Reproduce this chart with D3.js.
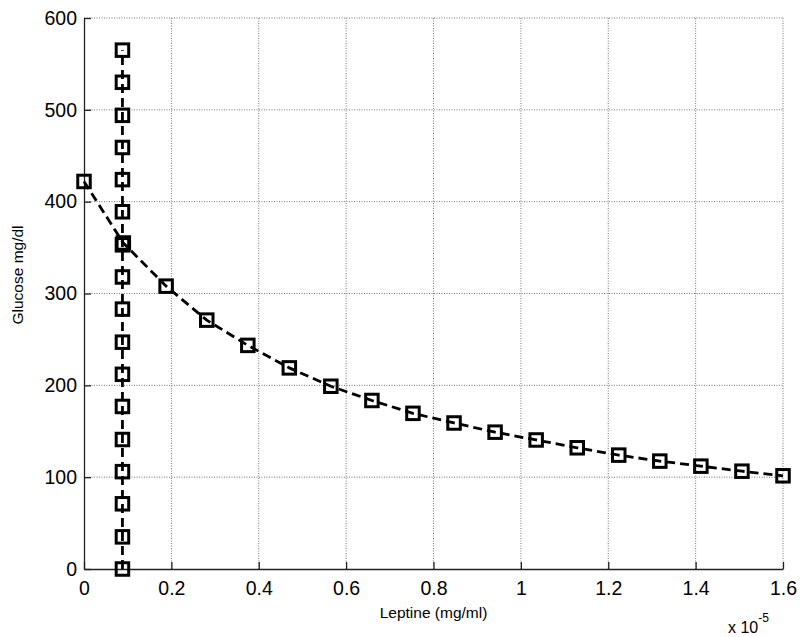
<!DOCTYPE html>
<html>
<head>
<meta charset="utf-8">
<script src="https://cdn.jsdelivr.net/npm/d3@7"></script>
<style>
  html, body { margin: 0; padding: 0; background: #fff; }
  svg { display: block; }
  text { font-family: "Liberation Sans", Arial, sans-serif; fill: #000; }
</style>
</head>
<body>
<svg id="chart" width="800" height="637"></svg>
<script>
// ---- data ----
const xTicks = [0, 0.2, 0.4, 0.6, 0.8, 1, 1.2, 1.4, 1.6];
const xTickLabels = ["0", "0.2", "0.4", "0.6", "0.8", "1", "1.2", "1.4", "1.6"];
const yTicks = [0, 100, 200, 300, 400, 500, 600];
const yTickLabels = ["0", "100", "200", "300", "400", "500", "600"];

// curve series (Leptine x1e-5, Glucose)
const curveX = [0, 0.09, 0.188, 0.281, 0.375, 0.47, 0.565, 0.659, 0.753, 0.847, 0.941, 1.035, 1.129, 1.224, 1.318, 1.412, 1.506, 1.6];
const curveY = [422, 355, 308, 271, 243.5, 219, 199, 183.5, 169.5, 159, 149, 140.5, 132, 124, 117.5, 112, 106.5, 101.5];

// vertical series
const vertX = [0.088, 0.088, 0.088, 0.088, 0.088, 0.088, 0.088, 0.088, 0.088, 0.088, 0.088, 0.088, 0.088, 0.088, 0.088, 0.088, 0.088];
const vertY = [0, 35, 71, 106, 141, 177, 212, 247, 283, 318, 353, 389, 424, 459, 494, 530, 565];

const xLabel = "Leptine (mg/ml)";
const yLabel = "Glucose mg/dl";

// ---- layout ----
const svg = d3.select("#chart");
const pL = 84, pR = 783, pT = 18, pB = 569;
const x = d3.scaleLinear().domain([0, 1.6]).range([pL, pR]);
const y = d3.scaleLinear().domain([0, 600]).range([pB, pT]);

// grid
const grid = svg.append("g");
grid.selectAll("line.gx").data(xTicks.filter(d => d > 0)).enter().append("line")
  .attr("x1", d => x(d)).attr("x2", d => x(d)).attr("y1", pT).attr("y2", pB)
  .attr("stroke", "#777").attr("stroke-width", 1).attr("stroke-dasharray", "1,1.5");
grid.selectAll("line.gy").data(yTicks.filter(d => d > 0)).enter().append("line")
  .attr("y1", d => y(d)).attr("y2", d => y(d)).attr("x1", pL).attr("x2", pR)
  .attr("stroke", "#777").attr("stroke-width", 1).attr("stroke-dasharray", "1,1.5");

// axes
const xAxis = d3.axisBottom(x).tickValues(xTicks).tickFormat((d, i) => xTickLabels[i]).tickSizeInner(-7).tickSizeOuter(0).tickPadding(12);
const yAxis = d3.axisLeft(y).tickValues(yTicks).tickFormat((d, i) => yTickLabels[i]).tickSizeInner(-7).tickSizeOuter(0).tickPadding(7);

const gx = svg.append("g").attr("transform", `translate(0,${pB})`).call(xAxis);
const gy = svg.append("g").attr("transform", `translate(${pL},0)`).call(yAxis);
[gx, gy].forEach(g => {
  g.select(".domain").attr("stroke", "#222").attr("stroke-width", 1.3);
  g.selectAll(".tick line").attr("stroke", "#222").attr("stroke-width", 1.3);
  g.selectAll(".tick text").attr("font-size", 19.5).attr("font-family", "Liberation Sans, Arial, sans-serif").attr("fill", "#000");
});
gx.selectAll(".tick text").attr("dy", "0.71em");

// labels
svg.append("text").attr("x", (pL + pR) / 2).attr("y", 618)
  .attr("text-anchor", "middle").attr("font-size", 15.5).text(xLabel);
svg.append("text").attr("transform", `translate(23,275) rotate(-90)`)
  .attr("text-anchor", "middle").attr("font-size", 15.5).text(yLabel);

// exponent
const ex = svg.append("text").attr("x", 728).attr("y", 633).attr("font-size", 16);
ex.append("tspan").text("x 10");
ex.append("tspan").attr("dy", -11).attr("font-size", 12).text("-5");

// series
const line = d3.line().x(d => x(d[0])).y(d => y(d[1]));
function drawSeries(xs, ys) {
  const pts = xs.map((v, i) => [v, ys[i]]);
  const g = svg.append("g");
  g.append("path").datum(pts).attr("d", line)
    .attr("fill", "none").attr("stroke", "#000").attr("stroke-width", 2.8)
    .attr("stroke-dasharray", "9,5");
  const s = 12.5;
  g.selectAll("rect").data(pts).enter().append("rect")
    .attr("x", d => x(d[0]) - s / 2).attr("y", d => y(d[1]) - s / 2)
    .attr("width", s).attr("height", s)
    .attr("fill", "none").attr("stroke", "#000").attr("stroke-width", 3);
}
drawSeries(curveX, curveY);
drawSeries(vertX, vertY);
</script>
</body>
</html>
